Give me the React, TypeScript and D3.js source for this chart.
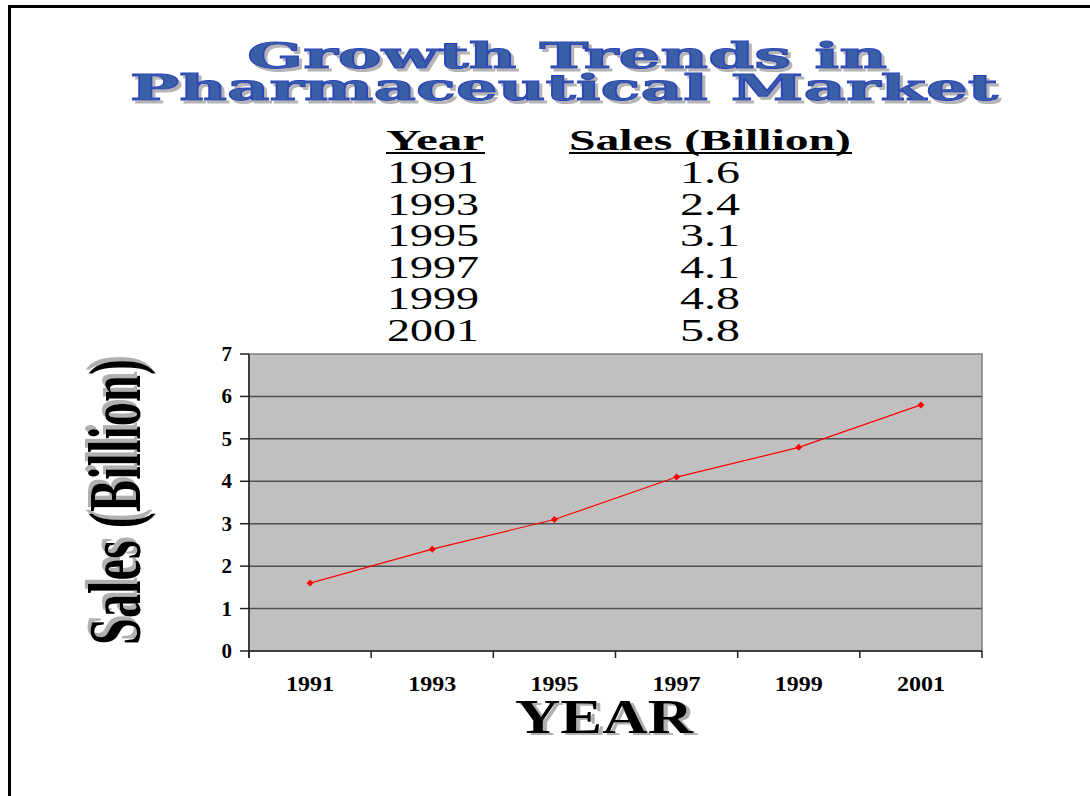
import React from "react";
import * as d3 from "d3";

const years = ["1991", "1993", "1995", "1997", "1999", "2001"];
const sales = [1.6, 2.4, 3.1, 4.1, 4.8, 5.8];
const salesLabels = ["1.6", "2.4", "3.1", "4.1", "4.8", "5.8"];
const yTicks = [0, 1, 2, 3, 4, 5, 6, 7];
const titleLines = ["Growth Trends in", "Pharmaceutical Market"];

const W = 1090;
const H = 796;
const plot = { left: 249, right: 982, top: 354, bottom: 651 };

export default function App() {
  const x = d3.scaleBand<string>().domain(years).range([plot.left, plot.right]);
  const y = d3.scaleLinear().domain([0, 7]).range([plot.bottom, plot.top]);
  const line = d3
    .line<number>()
    .x((_, i) => (x(years[i]) as number) + x.bandwidth() / 2)
    .y((d) => y(d));
  const boundaries = years.map((yr) => x(yr) as number).concat([plot.right]);
  const serif = "'Liberation Serif', 'Times New Roman', serif";
  const titleFont = "'DejaVu Serif', serif";

  return (
    <svg
      width={W}
      height={H}
      style={{ position: "absolute", left: 0, top: 0, display: "block" }}
    >
      <defs>
        <filter id="shadowTitle" x="-5%" y="-20%" width="115%" height="150%">
          <feFlood floodColor="#b4b4b4" result="c" />
          <feComposite in="c" in2="SourceAlpha" operator="in" result="s" />
          <feOffset in="s" dx={3} dy={3} result="o" />
          <feMerge>
            <feMergeNode in="o" />
            <feMergeNode in="SourceGraphic" />
          </feMerge>
        </filter>
        <filter id="shadowYear" x="-10%" y="-20%" width="130%" height="150%">
          <feFlood floodColor="#b0b0b0" result="c" />
          <feComposite in="c" in2="SourceAlpha" operator="in" result="s" />
          <feOffset in="s" dx={4} dy={2} result="o" />
          <feMerge>
            <feMergeNode in="o" />
            <feMergeNode in="SourceGraphic" />
          </feMerge>
        </filter>
        <filter id="shadowSales" x="-20%" y="-10%" width="150%" height="130%">
          <feFlood floodColor="#b0b0b0" result="c" />
          <feComposite in="c" in2="SourceAlpha" operator="in" result="s" />
          <feOffset in="s" dx={4} dy={-3} result="o" />
          <feMerge>
            <feMergeNode in="o" />
            <feMergeNode in="SourceGraphic" />
          </feMerge>
        </filter>
      </defs>
      <rect x={0} y={0} width={W} height={H} fill="#fff" />
      {/* frame */}
      <rect x={8} y={5} width={W - 8} height={3} fill="#000" />
      <rect x={8} y={5} width={3} height={H - 5} fill="#000" />

      {/* title */}
      {titleLines.map((t, i) => {
        const cy = i === 0 ? 68 : 100;
        const len = i === 0 ? 640 : 868;
        const cx = i === 0 ? 567 : 564;
        return (
          <text
            key={t}
            x={cx}
            y={cy}
            textAnchor="middle"
            fontFamily={titleFont}
            fontWeight="bold"
            fontSize={35}
            textLength={len}
            lengthAdjust="spacingAndGlyphs"
            fill="#3a5fa6"
            stroke="#2a44b8"
            strokeWidth={1}
            filter="url(#shadowTitle)"
          >
            {t}
          </text>
        );
      })}

      {/* data table */}
      <text
        x={386}
        y={150}
        fontFamily={serif}
        fontWeight="bold"
        fontSize={30}
        textLength={98}
        lengthAdjust="spacingAndGlyphs"
        fill="#000"
      >
        Year
      </text>
      <rect x={386} y={152} width={99} height={2} fill="#000" />
      <text
        x={569}
        y={150}
        fontFamily={serif}
        fontWeight="bold"
        fontSize={30}
        textLength={282}
        lengthAdjust="spacingAndGlyphs"
        fill="#000"
      >
        Sales (Billion)
      </text>
      <rect x={569} y={152} width={283} height={2} fill="#000" />
      {years.map((yr, i) => (
        <g key={yr}>
          <text
            x={387}
            y={183 + i * 31.5}
            fontFamily={serif}
            fontSize={32}
            textLength={92}
            lengthAdjust="spacingAndGlyphs"
            fill="#000"
          >
            {yr}
          </text>
          <text
            x={710}
            y={183 + i * 31.5}
            textAnchor="middle"
            fontFamily={serif}
            fontSize={32}
            textLength={60}
            lengthAdjust="spacingAndGlyphs"
            fill="#000"
          >
            {salesLabels[i]}
          </text>
        </g>
      ))}

      {/* plot area */}
      <rect
        x={plot.left}
        y={plot.top}
        width={plot.right - plot.left}
        height={plot.bottom - plot.top}
        fill="#c0c0c0"
        stroke="#808080"
        strokeWidth={1.5}
      />
      {yTicks
        .filter((t) => t > 0 && t < 7)
        .map((t) => (
          <line
            key={t}
            x1={plot.left}
            x2={plot.right}
            y1={y(t)}
            y2={y(t)}
            stroke="#505050"
            strokeWidth={1.5}
          />
        ))}
      {/* y axis */}
      <line x1={plot.left} x2={plot.left} y1={plot.top} y2={plot.bottom + 7} stroke="#222" strokeWidth={1.5} />
      {yTicks.map((t) => (
        <g key={t}>
          <line x1={plot.left - 9} x2={plot.left} y1={y(t)} y2={y(t)} stroke="#222" strokeWidth={1.5} />
          <text
            x={232}
            y={y(t) + 7}
            textAnchor="end"
            fontFamily={serif}
            fontWeight="bold"
            fontSize={21}
            fill="#000"
          >
            {t}
          </text>
        </g>
      ))}
      {/* x axis */}
      <line x1={plot.left} x2={plot.right} y1={plot.bottom} y2={plot.bottom} stroke="#222" strokeWidth={1.5} />
      {boundaries.map((b, i) => (
        <line key={i} x1={b} x2={b} y1={plot.bottom} y2={plot.bottom + 7} stroke="#222" strokeWidth={1.5} />
      ))}
      {years.map((yr) => (
        <text
          key={yr}
          x={(x(yr) as number) + x.bandwidth() / 2}
          y={691}
          textAnchor="middle"
          fontFamily={serif}
          fontWeight="bold"
          fontSize={20}
          textLength={48}
          lengthAdjust="spacingAndGlyphs"
          fill="#000"
        >
          {yr}
        </text>
      ))}

      {/* series */}
      <path d={line(sales) || ""} fill="none" stroke="#ff0000" strokeWidth={1.2} />
      {sales.map((v, i) => {
        const cx = (x(years[i]) as number) + x.bandwidth() / 2;
        const cy = y(v);
        return (
          <path
            key={i}
            d={`M${cx},${cy - 3.5}L${cx + 3.5},${cy}L${cx},${cy + 3.5}L${cx - 3.5},${cy}Z`}
            fill="#ff0000"
          />
        );
      })}

      {/* axis titles */}
      <g transform="translate(140,502) rotate(-90)">
        <text
          x={0}
          y={0}
          textAnchor="middle"
          fontFamily={serif}
          fontWeight="bold"
          fontSize={74}
          textLength={286}
          lengthAdjust="spacingAndGlyphs"
          fill="#000"
          filter="url(#shadowSales)"
        >
          Sales (Billion)
        </text>
      </g>
      <text
        x={604}
        y={733}
        textAnchor="middle"
        fontFamily={serif}
        fontWeight="bold"
        fontSize={48}
        textLength={178}
        lengthAdjust="spacingAndGlyphs"
        fill="#000"
        filter="url(#shadowYear)"
      >
        YEAR
      </text>
    </svg>
  );
}
